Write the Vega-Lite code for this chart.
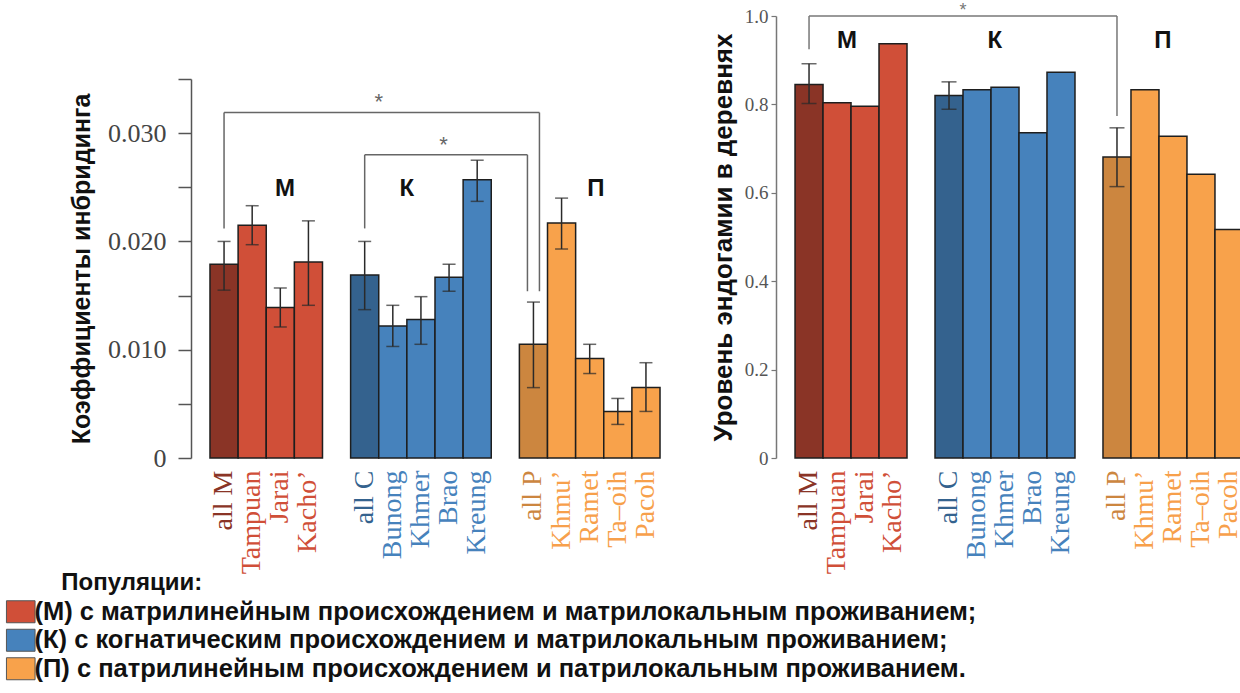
{
  "$schema": "https://vega.github.io/schema/vega-lite/v6.json",
  "background": "white",
  "padding": {"left": 8, "top": 1, "right": 0, "bottom": 0},
  "spacing": 31,
  "config": {
    "view": {"stroke": null},
    "font": "Liberation Sans"
  },
  "datasets": {
    "bars": [
      {"panel": "F", "pop": "all M", "shade": "allM", "value": 0.0179, "lo": 0.0155, "hi": 0.0200},
      {"panel": "F", "pop": "Tampuan", "shade": "M", "value": 0.0215, "lo": 0.0197, "hi": 0.0233},
      {"panel": "F", "pop": "Jarai", "shade": "M", "value": 0.0139, "lo": 0.0121, "hi": 0.0157},
      {"panel": "F", "pop": "Kacho’", "shade": "M", "value": 0.0181, "lo": 0.0141, "hi": 0.0219},
      {"panel": "F", "pop": "all C", "shade": "allК", "value": 0.0169, "lo": 0.0137, "hi": 0.0200},
      {"panel": "F", "pop": "Bunong", "shade": "К", "value": 0.0122, "lo": 0.0103, "hi": 0.0141},
      {"panel": "F", "pop": "Khmer", "shade": "К", "value": 0.0128, "lo": 0.0105, "hi": 0.0149},
      {"panel": "F", "pop": "Brao", "shade": "К", "value": 0.0167, "lo": 0.0154, "hi": 0.0179},
      {"panel": "F", "pop": "Kreung", "shade": "К", "value": 0.0257, "lo": 0.0237, "hi": 0.0275},
      {"panel": "F", "pop": "all P", "shade": "allП", "value": 0.0105, "lo": 0.0065, "hi": 0.0144},
      {"panel": "F", "pop": "Khmu’", "shade": "П", "value": 0.0217, "lo": 0.0193, "hi": 0.0240},
      {"panel": "F", "pop": "Ramet", "shade": "П", "value": 0.0092, "lo": 0.0078, "hi": 0.0105},
      {"panel": "F", "pop": "Ta–oih", "shade": "П", "value": 0.0043, "lo": 0.0031, "hi": 0.0055},
      {"panel": "F", "pop": "Pacoh", "shade": "П", "value": 0.0065, "lo": 0.0043, "hi": 0.0088},
      {"panel": "E", "pop": "all M", "shade": "allM", "value": 0.845, "lo": 0.802, "hi": 0.892},
      {"panel": "E", "pop": "Tampuan", "shade": "M", "value": 0.804},
      {"panel": "E", "pop": "Jarai", "shade": "M", "value": 0.796},
      {"panel": "E", "pop": "Kacho’", "shade": "M", "value": 0.937},
      {"panel": "E", "pop": "all C", "shade": "allК", "value": 0.820, "lo": 0.789, "hi": 0.851},
      {"panel": "E", "pop": "Bunong", "shade": "К", "value": 0.833},
      {"panel": "E", "pop": "Khmer", "shade": "К", "value": 0.839},
      {"panel": "E", "pop": "Brao", "shade": "К", "value": 0.736},
      {"panel": "E", "pop": "Kreung", "shade": "К", "value": 0.873},
      {"panel": "E", "pop": "all P", "shade": "allП", "value": 0.681, "lo": 0.614, "hi": 0.747},
      {"panel": "E", "pop": "Khmu’", "shade": "П", "value": 0.833},
      {"panel": "E", "pop": "Ramet", "shade": "П", "value": 0.728},
      {"panel": "E", "pop": "Ta–oih", "shade": "П", "value": 0.642},
      {"panel": "E", "pop": "Pacoh", "shade": "П", "value": 0.517}
    ],
    "brackets": [
      {"panel": "F", "kind": "v0", "pop": "all M", "y": 0.0212, "y2": 0.0319},
      {"panel": "F", "kind": "v0", "pop": "all C", "y": 0.0212, "y2": 0.0280},
      {"panel": "F", "kind": "hp", "pop": "all M", "pop2": "all P", "y": 0.0319},
      {"panel": "F", "kind": "vp", "pop": "all P", "y": 0.0154, "y2": 0.0319},
      {"panel": "F", "kind": "hm", "pop": "all C", "pop2": "all P", "y": 0.0280},
      {"panel": "F", "kind": "vm", "pop": "all P", "y": 0.0154, "y2": 0.0280},
      {"panel": "E", "kind": "v0", "pop": "all M", "y": 0.925, "y2": 1.0},
      {"panel": "E", "kind": "v0", "pop": "all P", "y": 0.774, "y2": 1.0},
      {"panel": "E", "kind": "h0", "pop": "all M", "pop2": "all P", "y": 1.0}
    ]
  },
  "hconcat": [
    {
      "width": 488,
      "height": 442,
      "encoding": {
        "x": {
          "field": "pop", "type": "nominal",
          "scale": {"domain": ["all M", "Tampuan", "Jarai", "Kacho’", "s1", "all C", "Bunong", "Khmer", "Brao", "Kreung", "s2", "all P", "Khmu’", "Ramet", "Ta–oih", "Pacoh"], "paddingInner": 0, "paddingOuter": 0.675},
          "axis": {
            "title": null, "domain": false, "ticks": false, "labelAngle": 270, "labelPadding": 12,
            "labelFont": "Liberation Serif", "labelFontSize": 28,
            "labelExpr": "datum.value == 's1' || datum.value == 's2' ? '' : datum.value",
            "labelColor": {"expr": "datum.value == 'all M' ? '#8a3426' : datum.value == 'all C' ? '#34628e' : datum.value == 'all P' ? '#cc863f' : indexof(['Tampuan','Jarai','Kacho’'], datum.value) >= 0 ? '#d04f38' : indexof(['Bunong','Khmer','Brao','Kreung'], datum.value) >= 0 ? '#4682bc' : '#f7a04b'"}
          }
        }
      },
      "layer": [
        {
          "data": {"name": "bars"},
          "transform": [{"filter": "datum.panel == 'F'"}],
          "mark": {"type": "bar", "stroke": "#1e1e1e", "strokeWidth": 1.5},
          "encoding": {
            "y": {
              "field": "value", "type": "quantitative",
              "scale": {"domain": [0, 0.035], "range": [442, 63], "nice": false},
              "axis": {
                "title": "Коэффициенты инбридинга", "titleFont": "Liberation Sans", "titleFontSize": 25, "titleFontWeight": "bold", "titleColor": "#111", "titlePadding": 13,
                "values": [0, 0.005, 0.01, 0.015, 0.02, 0.025, 0.03, 0.035],
                "labelExpr": "datum.value == 0 ? '0' : (abs(datum.value * 100 - round(datum.value * 100)) < 0.000001 ? format(datum.value, '.3f') : '')",
                "labelFont": "Liberation Serif", "labelFontSize": 26, "labelColor": "#444", "labelPadding": 12,
                "tickSize": 13, "tickColor": "#555", "tickWidth": 1.5, "domainColor": "#555", "domainWidth": 1.5, "grid": false
              }
            },
            "color": {
              "field": "shade", "type": "nominal",
              "scale": {"domain": ["M", "К", "П", "allM", "allК", "allП"], "range": ["#d04f38", "#4682bc", "#f8a24b", "#8a3426", "#34628e", "#cc863f"]},
              "legend": {
                "values": ["M", "К", "П"],
                "title": "\u200b\u00a0\u00a0\u00a0\u00a0\u00a0\u00a0\u00a0\u00a0Популяции:",
                "orient": "none", "legendX": -183, "legendY": 555, "direction": "vertical",
                "labelExpr": "datum.value == 'M' ? '(М) с матрилинейным происхождением и матрилокальным проживанием;' : datum.value == 'К' ? '(К)  с когнатическим происхождением и матрилокальным проживанием;' : '(П) с патрилинейным происхождением и патрилокальным проживанием.'",
                "symbolType": "M-1.3,-1H1.3V1H-1.3Z", "symbolSize": 484, "symbolStrokeColor": "#555", "symbolStrokeWidth": 1,
                "labelFont": "Liberation Sans", "labelFontWeight": "bold", "labelFontSize": 25.5, "labelColor": "#111", "labelLimit": 2000, "labelOffset": 1,
                "titleFont": "Liberation Sans", "titleFontWeight": "bold", "titleFontSize": 24, "titleColor": "#111", "titlePadding": 4, "titleLimit": 600, "rowPadding": 0.5
              }
            }
          }
        },
        {
          "data": {"name": "bars"},
          "transform": [{"filter": "datum.panel == 'F'"}],
          "mark": {"type": "rule", "color": "#2a2a2a", "strokeWidth": 1.5},
          "encoding": {
            "y": {"field": "lo", "type": "quantitative", "scale": {"domain": [0, 0.035], "range": [442, 63], "nice": false}},
            "y2": {"field": "hi"}
          }
        },
        {
          "data": {"name": "bars"},
          "transform": [{"filter": "datum.panel == 'F'"}],
          "mark": {"type": "tick", "color": "#2a2a2a", "thickness": 1.5, "size": 13},
          "encoding": {"y": {"field": "lo", "type": "quantitative", "scale": {"domain": [0, 0.035], "range": [442, 63], "nice": false}}}
        },
        {
          "data": {"name": "bars"},
          "transform": [{"filter": "datum.panel == 'F'"}],
          "mark": {"type": "tick", "color": "#2a2a2a", "thickness": 1.5, "size": 13},
          "encoding": {"y": {"field": "hi", "type": "quantitative", "scale": {"domain": [0, 0.035], "range": [442, 63], "nice": false}}}
        },
        {
          "data": {"name": "brackets"},
          "transform": [{"filter": "datum.panel == 'F' && datum.kind == 'v0'"}],
          "mark": {"type": "rule", "color": "#666", "strokeWidth": 1.5},
          "encoding": {"y": {"field": "y", "type": "quantitative", "scale": {"domain": [0, 0.035], "range": [442, 63], "nice": false}}, "y2": {"field": "y2"}}
        },
        {
          "data": {"name": "brackets"},
          "transform": [{"filter": "datum.panel == 'F' && datum.kind == 'vp'"}],
          "mark": {"type": "rule", "color": "#666", "strokeWidth": 1.5, "xOffset": 6},
          "encoding": {"y": {"field": "y", "type": "quantitative", "scale": {"domain": [0, 0.035], "range": [442, 63], "nice": false}}, "y2": {"field": "y2"}}
        },
        {
          "data": {"name": "brackets"},
          "transform": [{"filter": "datum.panel == 'F' && datum.kind == 'vm'"}],
          "mark": {"type": "rule", "color": "#666", "strokeWidth": 1.5, "xOffset": -6},
          "encoding": {"y": {"field": "y", "type": "quantitative", "scale": {"domain": [0, 0.035], "range": [442, 63], "nice": false}}, "y2": {"field": "y2"}}
        },
        {
          "data": {"name": "brackets"},
          "transform": [{"filter": "datum.panel == 'F' && datum.kind == 'hp'"}],
          "mark": {"type": "rule", "color": "#666", "strokeWidth": 1.5, "x2Offset": 6},
          "encoding": {"x2": {"field": "pop2"}, "y": {"field": "y", "type": "quantitative", "scale": {"domain": [0, 0.035], "range": [442, 63], "nice": false}}}
        },
        {
          "data": {"name": "brackets"},
          "transform": [{"filter": "datum.panel == 'F' && datum.kind == 'hm'"}],
          "mark": {"type": "rule", "color": "#666", "strokeWidth": 1.5, "x2Offset": -6},
          "encoding": {"x2": {"field": "pop2"}, "y": {"field": "y", "type": "quantitative", "scale": {"domain": [0, 0.035], "range": [442, 63], "nice": false}}}
        },
        {
          "data": {"values": [{}]},
          "mark": {"type": "text", "text": "*", "font": "Liberation Sans", "fontSize": 22, "color": "#666", "baseline": "middle"},
          "encoding": {"x": {"datum": "Bunong", "bandPosition": 0}, "y": {"datum": 0.0329, "type": "quantitative", "scale": {"domain": [0, 0.035], "range": [442, 63], "nice": false}}}
        },
        {
          "data": {"values": [{}]},
          "mark": {"type": "text", "text": "*", "font": "Liberation Sans", "fontSize": 22, "color": "#666", "baseline": "middle"},
          "encoding": {"x": {"datum": "Brao", "bandPosition": 0.3}, "y": {"datum": 0.0289, "type": "quantitative", "scale": {"domain": [0, 0.035], "range": [442, 63], "nice": false}}}
        },
        {
          "data": {"values": [{}]},
          "mark": {"type": "text", "text": "M", "font": "Liberation Sans", "fontSize": 24, "fontWeight": "bold", "color": "#111", "baseline": "middle"},
          "encoding": {"x": {"datum": "Jarai", "bandPosition": 0.67}, "y": {"datum": 0.0248, "type": "quantitative", "scale": {"domain": [0, 0.035], "range": [442, 63], "nice": false}}}
        },
        {
          "data": {"values": [{}]},
          "mark": {"type": "text", "text": "К", "font": "Liberation Sans", "fontSize": 24, "fontWeight": "bold", "color": "#111", "baseline": "middle"},
          "encoding": {"x": {"datum": "Khmer", "bandPosition": 0}, "y": {"datum": 0.0248, "type": "quantitative", "scale": {"domain": [0, 0.035], "range": [442, 63], "nice": false}}}
        },
        {
          "data": {"values": [{}]},
          "mark": {"type": "text", "text": "П", "font": "Liberation Sans", "fontSize": 24, "fontWeight": "bold", "color": "#111", "baseline": "middle"},
          "encoding": {"x": {"datum": "Ramet", "bandPosition": 0.72}, "y": {"datum": 0.0248, "type": "quantitative", "scale": {"domain": [0, 0.035], "range": [442, 63], "nice": false}}}
        }
      ]
    },
    {
      "width": 486,
      "height": 442,
      "encoding": {
        "x": {
          "field": "pop", "type": "nominal",
          "scale": {"domain": ["all M", "Tampuan", "Jarai", "Kacho’", "s1", "all C", "Bunong", "Khmer", "Brao", "Kreung", "s2", "all P", "Khmu’", "Ramet", "Ta–oih", "Pacoh"], "paddingInner": 0, "paddingOuter": 0.68},
          "axis": {
            "title": null, "domain": false, "ticks": false, "labelAngle": 270, "labelPadding": 12,
            "labelFont": "Liberation Serif", "labelFontSize": 28,
            "labelExpr": "datum.value == 's1' || datum.value == 's2' ? '' : datum.value",
            "labelColor": {"expr": "datum.value == 'all M' ? '#8a3426' : datum.value == 'all C' ? '#34628e' : datum.value == 'all P' ? '#cc863f' : indexof(['Tampuan','Jarai','Kacho’'], datum.value) >= 0 ? '#d04f38' : indexof(['Bunong','Khmer','Brao','Kreung'], datum.value) >= 0 ? '#4682bc' : '#f7a04b'"}
          }
        }
      },
      "layer": [
        {
          "data": {"name": "bars"},
          "transform": [{"filter": "datum.panel == 'E'"}],
          "mark": {"type": "bar", "stroke": "#1e1e1e", "strokeWidth": 1.5},
          "encoding": {
            "y": {
              "field": "value", "type": "quantitative",
              "scale": {"domain": [0, 1], "nice": false},
              "axis": {
                "title": "Уровень эндогамии в деревнях", "titleFont": "Liberation Sans", "titleFontSize": 26, "titleFontWeight": "bold", "titleColor": "#111", "titlePadding": 8,
                "values": [0, 0.2, 0.4, 0.6, 0.8, 1.0],
                "labelExpr": "datum.value == 0 ? '0' : format(datum.value, '.1f')",
                "labelFont": "Liberation Serif", "labelFontSize": 19, "labelColor": "#555", "labelPadding": 3,
                "tickSize": 5, "tickColor": "#777", "tickWidth": 1.2, "domainColor": "#777", "domainWidth": 1.5, "grid": false
              }
            },
            "color": {
              "field": "shade", "type": "nominal",
              "scale": {"domain": ["M", "К", "П", "allM", "allК", "allП"], "range": ["#d04f38", "#4682bc", "#f8a24b", "#8a3426", "#34628e", "#cc863f"]},
              "legend": {
                "values": ["M", "К", "П"],
                "title": "\u200b\u00a0\u00a0\u00a0\u00a0\u00a0\u00a0\u00a0\u00a0Популяции:",
                "orient": "none", "legendX": -183, "legendY": 555, "direction": "vertical",
                "labelExpr": "datum.value == 'M' ? '(М) с матрилинейным происхождением и матрилокальным проживанием;' : datum.value == 'К' ? '(К)  с когнатическим происхождением и матрилокальным проживанием;' : '(П) с патрилинейным происхождением и патрилокальным проживанием.'",
                "symbolType": "M-1.3,-1H1.3V1H-1.3Z", "symbolSize": 484, "symbolStrokeColor": "#555", "symbolStrokeWidth": 1,
                "labelFont": "Liberation Sans", "labelFontWeight": "bold", "labelFontSize": 25.5, "labelColor": "#111", "labelLimit": 2000, "labelOffset": 1,
                "titleFont": "Liberation Sans", "titleFontWeight": "bold", "titleFontSize": 24, "titleColor": "#111", "titlePadding": 4, "titleLimit": 600, "rowPadding": 0.5
              }
            }
          }
        },
        {
          "data": {"name": "bars"},
          "transform": [{"filter": "datum.panel == 'E' && isValid(datum.lo)"}],
          "mark": {"type": "rule", "color": "#2a2a2a", "strokeWidth": 1.5},
          "encoding": {
            "y": {"field": "lo", "type": "quantitative", "scale": {"domain": [0, 1], "nice": false}},
            "y2": {"field": "hi"}
          }
        },
        {
          "data": {"name": "bars"},
          "transform": [{"filter": "datum.panel == 'E' && isValid(datum.lo)"}],
          "mark": {"type": "tick", "color": "#2a2a2a", "thickness": 1.5, "size": 15},
          "encoding": {"y": {"field": "lo", "type": "quantitative", "scale": {"domain": [0, 1], "nice": false}}}
        },
        {
          "data": {"name": "bars"},
          "transform": [{"filter": "datum.panel == 'E' && isValid(datum.lo)"}],
          "mark": {"type": "tick", "color": "#2a2a2a", "thickness": 1.5, "size": 15},
          "encoding": {"y": {"field": "hi", "type": "quantitative", "scale": {"domain": [0, 1], "nice": false}}}
        },
        {
          "data": {"name": "brackets"},
          "transform": [{"filter": "datum.panel == 'E' && datum.kind == 'v0'"}],
          "mark": {"type": "rule", "color": "#777", "strokeWidth": 1.5},
          "encoding": {"y": {"field": "y", "type": "quantitative", "scale": {"domain": [0, 1], "nice": false}}, "y2": {"field": "y2"}}
        },
        {
          "data": {"name": "brackets"},
          "transform": [{"filter": "datum.panel == 'E' && datum.kind == 'h0'"}],
          "mark": {"type": "rule", "color": "#777", "strokeWidth": 1.5},
          "encoding": {"x2": {"field": "pop2"}, "y": {"field": "y", "type": "quantitative", "scale": {"domain": [0, 1], "nice": false}}}
        },
        {
          "data": {"values": [{}]},
          "mark": {"type": "text", "text": "*", "font": "Liberation Sans", "fontSize": 18, "color": "#777", "baseline": "middle"},
          "encoding": {"x": {"datum": "Bunong", "bandPosition": 0}, "y": {"datum": 1.012, "type": "quantitative", "scale": {"domain": [0, 1], "nice": false}}}
        },
        {
          "data": {"values": [{}]},
          "mark": {"type": "text", "text": "M", "font": "Liberation Sans", "fontSize": 24, "fontWeight": "bold", "color": "#111", "baseline": "middle"},
          "encoding": {"x": {"datum": "Tampuan", "bandPosition": 0.86}, "y": {"datum": 0.943, "type": "quantitative", "scale": {"domain": [0, 1], "nice": false}}}
        },
        {
          "data": {"values": [{}]},
          "mark": {"type": "text", "text": "К", "font": "Liberation Sans", "fontSize": 24, "fontWeight": "bold", "color": "#111", "baseline": "middle"},
          "encoding": {"x": {"datum": "Khmer", "bandPosition": 0.14}, "y": {"datum": 0.943, "type": "quantitative", "scale": {"domain": [0, 1], "nice": false}}}
        },
        {
          "data": {"values": [{}]},
          "mark": {"type": "text", "text": "П", "font": "Liberation Sans", "fontSize": 24, "fontWeight": "bold", "color": "#111", "baseline": "middle"},
          "encoding": {"x": {"datum": "Ramet", "bandPosition": 0.14}, "y": {"datum": 0.943, "type": "quantitative", "scale": {"domain": [0, 1], "nice": false}}}
        }
      ]
    }
  ]
}
